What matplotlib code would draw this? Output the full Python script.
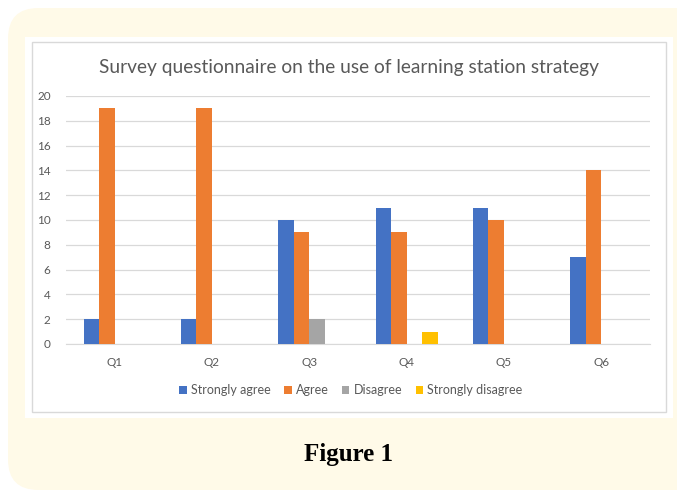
import matplotlib
matplotlib.use("Agg")
import matplotlib.pyplot as plt
import numpy as np
from matplotlib.patches import FancyBboxPatch, Rectangle

categories = ["Q1", "Q2", "Q3", "Q4", "Q5", "Q6"]
series_names = ["Strongly agree", "Agree", "Disagree", "Strongly disagree"]
strongly_agree = [2, 2, 10, 11, 11, 7]
agree = [19, 19, 9, 9, 10, 14]
disagree = [0, 0, 2, 0, 0, 0]
strongly_disagree = [0, 0, 0, 1, 0, 0]
y_ticks = [0, 2, 4, 6, 8, 10, 12, 14, 16, 18, 20]

colors = ["#4472C4", "#ED7D31", "#A5A5A5", "#FFC000"]
W, H = 677, 491
fig = plt.figure(figsize=(W / 100, H / 100), dpi=100, facecolor="white")

def fx(x):
    return x / W

def fy(y):
    return 1 - y / H

FONT = "Lato"

# cream rounded background
fig.patches.append(FancyBboxPatch((fx(8), fy(490)), fx(700), (482) / H,
                                  boxstyle="round,pad=0,rounding_size=0.045",
                                  transform=fig.transFigure, facecolor="#FFFAE8",
                                  edgecolor="none", zorder=0,
                                  mutation_aspect=W / H))
# white panel
fig.patches.append(Rectangle((fx(25), fy(418)), fx(673 - 25), (418 - 37) / H,
                             transform=fig.transFigure, facecolor="white",
                             edgecolor="none", zorder=1))
# chart border
fig.patches.append(Rectangle((fx(32), fy(412)), fx(666 - 32), (412 - 42) / H,
                             transform=fig.transFigure, facecolor="white",
                             edgecolor="#D9D9D9", linewidth=1.0, zorder=2))

ax = fig.add_axes([fx(66), fy(344), fx(650 - 66), (344 - 96) / H], zorder=3)
ax.set_facecolor("none")

x = np.arange(len(categories))
bw = 0.16
data = [strongly_agree, agree, disagree, strongly_disagree]
for i, (vals, name, c) in enumerate(zip(data, series_names, colors)):
    ax.bar(x + (i - 1.5) * bw, vals, width=bw, color=c, label=name, zorder=3)

ax.set_xlim(-0.5, len(categories) - 0.5)
ax.set_ylim(0, 20)
ax.set_yticks(y_ticks)
ax.set_xticks(x)
ax.set_xticklabels(categories)
ax.yaxis.grid(True, color="#D9D9D9", linewidth=0.9, zorder=0)
ax.set_axisbelow(True)
for s in ["top", "right", "left"]:
    ax.spines[s].set_visible(False)
ax.spines["bottom"].set_color("#D9D9D9")
ax.tick_params(axis="both", length=0, labelsize=8.5, labelcolor="#595959")
ax.tick_params(axis="y", pad=11)
ax.tick_params(axis="x", pad=9)
for lab in ax.get_xticklabels() + ax.get_yticklabels():
    lab.set_family(FONT)

fig.text(fx(349), fy(67), "Survey questionnaire on the use of learning station strategy",
         ha="center", va="center", fontsize=13.8, color="#595959", family=FONT,
         zorder=4)

handles, labels = ax.get_legend_handles_labels()
leg = fig.legend(handles, labels, loc="center", bbox_to_anchor=(fx(351), fy(390)),
                 ncol=4, frameon=False, handlelength=0.6, handleheight=0.6,
                 handletextpad=0.35, columnspacing=1.05,
                 prop={"family": FONT, "size": 9})
for t in leg.get_texts():
    t.set_color("#595959")
leg.set_zorder(5)

fig.text(fx(349), fy(455), "Figure 1", ha="center", va="center", fontsize=18,
         fontweight="bold", family="Liberation Serif", color="black", zorder=4)

fig.savefig("out.png", dpi=100, facecolor="white")
